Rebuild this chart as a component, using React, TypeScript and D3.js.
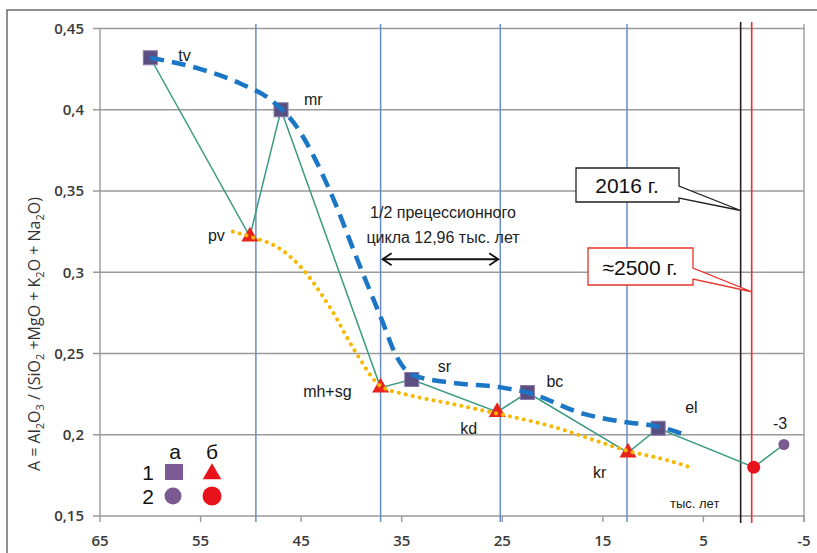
import * as d3 from "d3";

// x: thousand years ago, y: A index
const xTicks = [65, 55, 45, 35, 25, 15, 5, -5];
const yTicks = [0.15, 0.2, 0.25, 0.3, 0.35, 0.4, 0.45];
const yTickLabels = ["0,15", "0,2", "0,25", "0,3", "0,35", "0,4", "0,45"];

// 1a – squares, 1б – triangles, 2a – purple circle, 2б – red circle
const squares = [
  { id: "tv", x: 60, y: 0.432 },
  { id: "mr", x: 47, y: 0.4 },
  { id: "sr", x: 34, y: 0.234 },
  { id: "bc", x: 22.5, y: 0.226 },
  { id: "el", x: 9.5, y: 0.204 },
];
const triangles = [
  { id: "pv", x: 50.1, y: 0.322 },
  { id: "mh+sg", x: 37.1, y: 0.229 },
  { id: "kd", x: 25.5, y: 0.214 },
  { id: "kr", x: 12.5, y: 0.189 },
];
const purpleCircles = [{ id: "-3", x: -3, y: 0.194 }];
const redCircles = [{ id: "now", x: 0, y: 0.18 }];

const sequence = ["tv", "pv", "mr", "mh+sg", "sr", "kd", "bc", "kr", "el", "now", "-3"];

// smoothed trends
const dashedTrend: [number, number][] = [
  [60, 0.432], [55, 0.425], [51, 0.416], [48, 0.406], [45.5, 0.39], [42.2, 0.351],
  [39.3, 0.306], [37, 0.271], [35.5, 0.248], [34, 0.237], [30, 0.232], [25, 0.229],
  [22.5, 0.226], [17, 0.213], [13, 0.208], [9.5, 0.205], [6.8, 0.2],
];
const dottedTrend: [number, number][] = [
  [51.8, 0.325], [50.1, 0.322], [47, 0.314], [45, 0.303], [42, 0.277], [39.5, 0.25],
  [37.1, 0.23], [34, 0.224], [30, 0.219], [25.5, 0.213], [20, 0.205], [16, 0.197],
  [12.5, 0.19], [9, 0.185], [6.3, 0.18],
];

const cycleLines = [49.5, 37.1, 25.2, 12.6];
const year2016 = 1.3;
const year2500 = 0.2;

const labelPos: Record<string, { dx: number; dy: number; anchor: string }> = {
  tv: { dx: 28, dy: 3, anchor: "start" },
  mr: { dx: 23, dy: -5, anchor: "start" },
  pv: { dx: -25, dy: 4, anchor: "end" },
  "mh+sg": { dx: -29, dy: 9, anchor: "end" },
  sr: { dx: 26, dy: -8, anchor: "start" },
  bc: { dx: 19, dy: -6, anchor: "start" },
  kd: { dx: -37, dy: 22, anchor: "start" },
  kr: { dx: -35, dy: 25, anchor: "start" },
  el: { dx: 27, dy: -15, anchor: "start" },
  "-3": { dx: -11, dy: -16, anchor: "start" },
};

const W = 817;
const H = 553;

export default function App() {
  const x = d3.scaleLinear().domain([65, -5]).range([100, 804]);
  const y = d3.scaleLinear().domain([0.15, 0.45]).range([516, 28.5]);

  const all = [...squares, ...triangles, ...purpleCircles, ...redCircles];
  const byId = new Map(all.map((d) => [d.id, d]));
  const seqPts = sequence.map((id) => byId.get(id)!);

  const straight = d3
    .line<{ x: number; y: number }>()
    .x((d) => x(d.x))
    .y((d) => y(d.y));
  const smooth = d3
    .line<[number, number]>()
    .x((d) => x(d[0]))
    .y((d) => y(d[1]))
    .curve(d3.curveMonotoneX);

  const tri = d3.symbol().type(d3.symbolTriangle).size(125)()!;
  const triLegend = d3.symbol().type(d3.symbolTriangle).size(150)()!;

  const labelFont = "'Liberation Sans', Arial, sans-serif";
  const tickFont = "'Open Sans', 'DejaVu Sans', sans-serif";

  const xb = x(year2016);
  const xr = x(year2500);
  const tipB = y(0.338);
  const tipR = y(0.288);
  const arrowY = y(0.308);
  const ax1 = x(cycleLines[1]);
  const ax2 = x(cycleLines[2]);

  return (
    <svg width={W} height={H} style={{ position: "absolute", left: 0, top: 0, background: "#fff" }}>
      <rect x={7} y={10} width={830} height={570} fill="#fff" stroke="#555" strokeWidth={1.3} />

      {/* horizontal grid */}
      {yTicks.map((t) => (
        <line key={t} x1={93} x2={x(-5)} y1={y(t)} y2={y(t)} stroke="#9a9a9a" strokeWidth={1.4} />
      ))}
      {/* axes frame */}
      <line x1={x(65)} x2={x(65)} y1={y(0.45)} y2={y(0.15)} stroke="#9a9a9a" strokeWidth={1.4} />
      <line x1={x(-5)} x2={x(-5)} y1={24} y2={y(0.15) + 6} stroke="#9a9a9a" strokeWidth={1.4} />
      {xTicks.map((t) => (
        <line key={t} x1={x(t)} x2={x(t)} y1={y(0.15)} y2={y(0.15) + 6} stroke="#9a9a9a" strokeWidth={1.4} />
      ))}

      {/* tick labels */}
      {yTicks.map((t, i) => (
        <text key={t} x={84} y={y(t)} dy="0.35em" textAnchor="end" fontFamily={tickFont}
          fontSize={15} fontWeight={600} fill="#3a3a3a">
          {yTickLabels[i]}
        </text>
      ))}
      {xTicks.map((t) => (
        <text key={t} x={x(t)} y={546} textAnchor="middle" fontFamily={tickFont}
          fontSize={15} fontWeight={600} fill="#3a3a3a">
          {t}
        </text>
      ))}

      {/* y axis title */}
      <text transform={`translate(40,334) rotate(-90)`} textAnchor="middle" fontFamily={tickFont}
        fontSize={16} fill="#333">
        A = Al<tspan fontSize={11} dy={4}>2</tspan><tspan dy={-4}>O</tspan>
        <tspan fontSize={11} dy={4}>3</tspan><tspan dy={-4}> / (SiO</tspan>
        <tspan fontSize={11} dy={4}>2</tspan><tspan dy={-4}> +MgO + K</tspan>
        <tspan fontSize={11} dy={4}>2</tspan><tspan dy={-4}>O + Na</tspan>
        <tspan fontSize={11} dy={4}>2</tspan><tspan dy={-4}>O)</tspan>
      </text>

      {/* vertical cycle lines */}
      {cycleLines.map((c) => (
        <line key={c} x1={x(c)} x2={x(c)} y1={24} y2={522} stroke="#6a8cc6" strokeWidth={1.5} />
      ))}
      <line x1={xb} x2={xb} y1={22} y2={523} stroke="#222" strokeWidth={1.6} />
      <line x1={xr} x2={xr} y1={22} y2={523} stroke="#e8322c" strokeWidth={1.6} />

      {/* connecting line */}
      <path d={straight(seqPts)!} fill="none" stroke="#3a9a80" strokeWidth={1.5} />

      {/* markers */}
      {triangles.map((d) => (
        <path key={d.id} d={tri} transform={`translate(${x(d.x)},${y(d.y)})`} fill="#e8231c" />
      ))}
      {squares.map((d) => (
        <rect key={d.id} x={x(d.x) - 7} y={y(d.y) - 7} width={14} height={14} fill="#5b4e80" stroke="#8b7aa8" strokeWidth={1} />
      ))}

      {/* trends */}
      <path d={smooth(dashedTrend)!} fill="none" stroke="#1b77c6" strokeWidth={4.5} strokeDasharray="14 8" />
      <path d={smooth(dottedTrend)!} fill="none" stroke="#f6b800" strokeWidth={4} strokeDasharray="0.1 7" strokeLinecap="round" />

      {redCircles.map((d) => (
        <circle key={d.id} cx={x(d.x)} cy={y(d.y)} r={6.5} fill="#e8121b" />
      ))}
      {purpleCircles.map((d) => (
        <circle key={d.id} cx={x(d.x)} cy={y(d.y)} r={5.5} fill="#7a5a90" />
      ))}

      {/* point labels */}
      {all.filter((d) => labelPos[d.id]).map((d) => {
        const p = labelPos[d.id];
        return (
          <text key={d.id} x={x(d.x) + p.dx} y={y(d.y) + p.dy} textAnchor={p.anchor}
            fontFamily={labelFont} fontSize={16} fill="#1a1a1a">
            {d.id}
          </text>
        );
      })}
      <text x={670} y={508} fontFamily={labelFont} fontSize={13} fill="#222">тыс. лет</text>

      {/* precession annotation */}
      <text x={443} y={218} textAnchor="middle" fontFamily={labelFont} fontSize={16} fill="#222">1/2 прецессионного</text>
      <text x={443} y={243} textAnchor="middle" fontFamily={labelFont} fontSize={16} fill="#222">цикла 12,96 тыс. лет</text>
      <line x1={ax1 + 2} x2={ax2 - 2} y1={arrowY} y2={arrowY} stroke="#111" strokeWidth={1.8} />
      <path d={`M${ax1 + 11},${arrowY - 6} L${ax1 + 2},${arrowY} L${ax1 + 11},${arrowY + 6}`} fill="none" stroke="#111" strokeWidth={1.8} />
      <path d={`M${ax2 - 11},${arrowY - 6} L${ax2 - 2},${arrowY} L${ax2 - 11},${arrowY + 6}`} fill="none" stroke="#111" strokeWidth={1.8} />

      {/* callouts */}
      <path d={`M576,168 H679 V186 L${xb},${tipB} L679,198 V202 H576 Z`} fill="#fff" stroke="#222" strokeWidth={1.3} />
      <text x={627} y={193} textAnchor="middle" fontFamily={labelFont} fontSize={21} fill="#111">2016 г.</text>
      <path d={`M588,248 H693 V268 L${xr},${tipR} L693,279 V285 H588 Z`} fill="#fff" stroke="#e8322c" strokeWidth={1.3} />
      <text x={640} y={275} textAnchor="middle" fontFamily={labelFont} fontSize={21} fill="#111">≈2500 г.</text>

      {/* legend */}
      <text x={175} y={459} textAnchor="middle" fontFamily={labelFont} fontSize={21} fill="#111">а</text>
      <text x={212} y={459} textAnchor="middle" fontFamily={labelFont} fontSize={21} fill="#111">б</text>
      <text x={148} y={480} textAnchor="middle" fontFamily={labelFont} fontSize={21} fill="#111">1</text>
      <text x={148} y={504} textAnchor="middle" fontFamily={labelFont} fontSize={21} fill="#111">2</text>
      <rect x={165} y={464} width={18} height={16} fill="#7b5a96" />
      <path d={triLegend} transform="translate(212,474)" fill="#e8121b" />
      <circle cx={173} cy={496} r={8.5} fill="#7a5a90" />
      <circle cx={212} cy={496} r={9.5} fill="#e8121b" />
    </svg>
  );
}
